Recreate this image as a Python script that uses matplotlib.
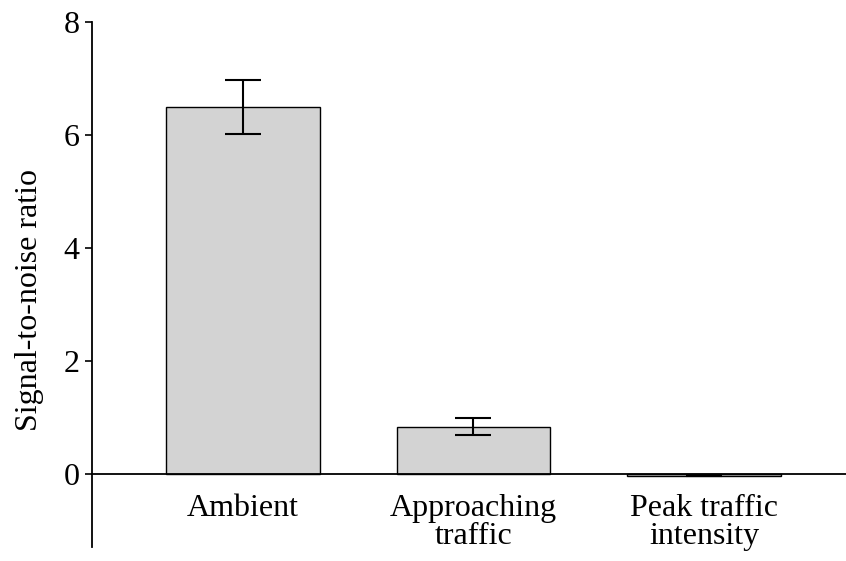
import matplotlib
matplotlib.use("Agg")
import matplotlib.pyplot as plt

categories = ["Ambient", "Approaching\ntraffic", "Peak traffic\nintensity"]
values = [6.5, 0.84, -0.02]
errors = [0.48, 0.15, 0.012]
yticks = [0, 2, 4, 6, 8]

plt.rcParams['font.family'] = ['Liberation Serif', 'DejaVu Serif']

fig = plt.figure(figsize=(8.46, 5.61), dpi=100)
ax = fig.add_axes([92/846, 1-546.7/561, 1-92/846, (546.7-22.5)/561])

for s in ['top', 'right']:
    ax.spines[s].set_visible(False)
ax.spines['bottom'].set_position(('data', 0))
ax.spines['bottom'].set_linewidth(1.3)
ax.spines['left'].set_linewidth(1.3)

x = list(range(len(categories)))
ax.bar(x, values, width=0.667, color='#d3d3d3', edgecolor='black', linewidth=1.0, zorder=2)
ax.errorbar(x, values, yerr=errors, fmt='none', ecolor='black', elinewidth=1.5,
            capsize=13.3, capthick=1.5, zorder=3)

ax.set_xlim(-0.654, 2.615)
ax.set_ylim(-1.28, 8)
ax.set_yticks(yticks)
ax.set_yticklabels([str(v) for v in yticks], fontsize=23)
ax.set_xticks(x)
ax.set_xticklabels(categories, fontsize=23, linespacing=0.95)

ax.tick_params(axis='x', length=0, pad=14)
ax.tick_params(axis='y', length=5, width=1.2, pad=4, direction='out')
ax.set_ylabel("Signal-to-noise ratio", fontsize=23)
ax.yaxis.set_label_coords(-0.063, 0.4706)

fig.savefig("out.png", dpi=100)
